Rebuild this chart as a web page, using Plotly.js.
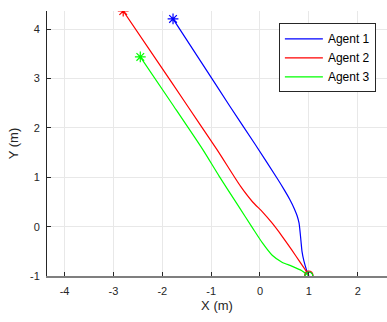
<!DOCTYPE html>
<html>
<head>
<meta charset="utf-8">
<script src="https://cdn.plot.ly/plotly-3.0.1.min.js"></script>
<style>html,body{margin:0;padding:0;background:#fff;}#chart{width:387px;height:322px;}</style>
</head>
<body>
<div id="chart"></div>
<script>
var agentNames = ["Agent 1", "Agent 2", "Agent 3"];
var agentColors = ["#0000ff", "#ff0000", "#00ff00"];

var agent1X = [-1.78, -1.2, -0.61, -0.1, 0.37, 0.5, 0.61, 0.7, 0.76, 0.8, 0.82, 0.84, 0.86, 0.9, 0.95, 1.0];
var agent1Y = [4.21, 3.33, 2.43, 1.67, 0.95, 0.74, 0.55, 0.37, 0.22, 0.07, -0.1, -0.3, -0.5, -0.7, -0.87, -1.0];

var agent2X = [-2.8, -2.1, -1.5, -0.88, -0.4, -0.15, 0.05, 0.25, 0.45, 0.65, 0.82, 1.0];
var agent2Y = [4.37, 3.35, 2.47, 1.56, 0.82, 0.5, 0.3, 0.07, -0.19, -0.47, -0.72, -0.98];

var agent3X = [-2.45, -1.8, -1.17, -0.84, -0.45, -0.15, 0.05, 0.25, 0.45, 0.65, 0.85, 1.0];
var agent3Y = [3.44, 2.49, 1.56, 1.03, 0.43, -0.03, -0.33, -0.58, -0.72, -0.8, -0.89, -1.0];

var xTicks = [-4, -3, -2, -1, 0, 1, 2];
var yTicks = [-1, 0, 1, 2, 3, 4];

var paths = [[agent1X, agent1Y], [agent2X, agent2Y], [agent3X, agent3Y]];
var traces = [];
paths.forEach(function (p, i) {
  traces.push({
    x: p[0], y: p[1], type: "scatter", mode: "lines",
    name: agentNames[i],
    line: {color: agentColors[i], width: 1.2, shape: "spline", smoothing: 0.6}
  });
});
paths.forEach(function (p, i) {
  traces.push({
    x: [p[0][0]], y: [p[1][0]], type: "scatter", mode: "markers",
    showlegend: false, hoverinfo: "skip",
    marker: {symbol: "asterisk-open", size: 9, color: agentColors[i], line: {color: agentColors[i], width: 1.2}}
  });
});
paths.forEach(function (p, i) {
  var n = p[0].length - 1;
  traces.push({
    x: [p[0][n]], y: [p[1][n]], type: "scatter", mode: "markers",
    showlegend: false, hoverinfo: "skip",
    marker: {symbol: "circle-open", size: 8, color: agentColors[i], line: {color: agentColors[i], width: 1.2}}
  });
});

var font = {family: "Liberation Sans, Arial, sans-serif", size: 11, color: "#262626"};
var layout = {
  width: 387, height: 322,
  margin: {l: 47, r: 0, t: 11, b: 46, pad: 0},
  paper_bgcolor: "#ffffff", plot_bgcolor: "#ffffff",
  font: font,
  showlegend: true,
  legend: {
    x: 0.682, y: 0.9536, xanchor: "left", yanchor: "top",
    bgcolor: "#ffffff", bordercolor: "#262626", borderwidth: 1,
    font: {family: "Liberation Sans, Arial, sans-serif", size: 12, color: "#000000"},
    itemwidth: 38,
    tracegroupgap: 0
  },
  xaxis: {
    range: [-4.36, 2.6], tickvals: xTicks, ticktext: xTicks.map(String),
    showgrid: true, gridcolor: "#e8e8e8", gridwidth: 1, zeroline: false,
    showline: true, linecolor: "#7f7f7f", linewidth: 2, mirror: false,
    ticks: "inside", ticklen: 4, tickcolor: "#262626", tickwidth: 1,
    ticklabelstandoff: 4,
    tickfont: font,
    title: {text: "X (m)", font: {family: "Liberation Sans, Arial, sans-serif", size: 13, color: "#262626"}, standoff: 5}
  },
  yaxis: {
    range: [-1, 4.37], tickvals: yTicks, ticktext: yTicks.map(String),
    showgrid: true, gridcolor: "#e8e8e8", gridwidth: 1, zeroline: false,
    showline: true, linecolor: "#262626", linewidth: 1, mirror: false,
    ticks: "inside", ticklen: 4, tickcolor: "#262626", tickwidth: 1,
    ticklabelstandoff: 4,
    tickfont: font,
    title: {text: "Y (m)", font: {family: "Liberation Sans, Arial, sans-serif", size: 13, color: "#262626"}, standoff: 8}
  }
};
Plotly.newPlot("chart", traces, layout, {staticPlot: true, displayModeBar: false});
</script>
</body>
</html>
